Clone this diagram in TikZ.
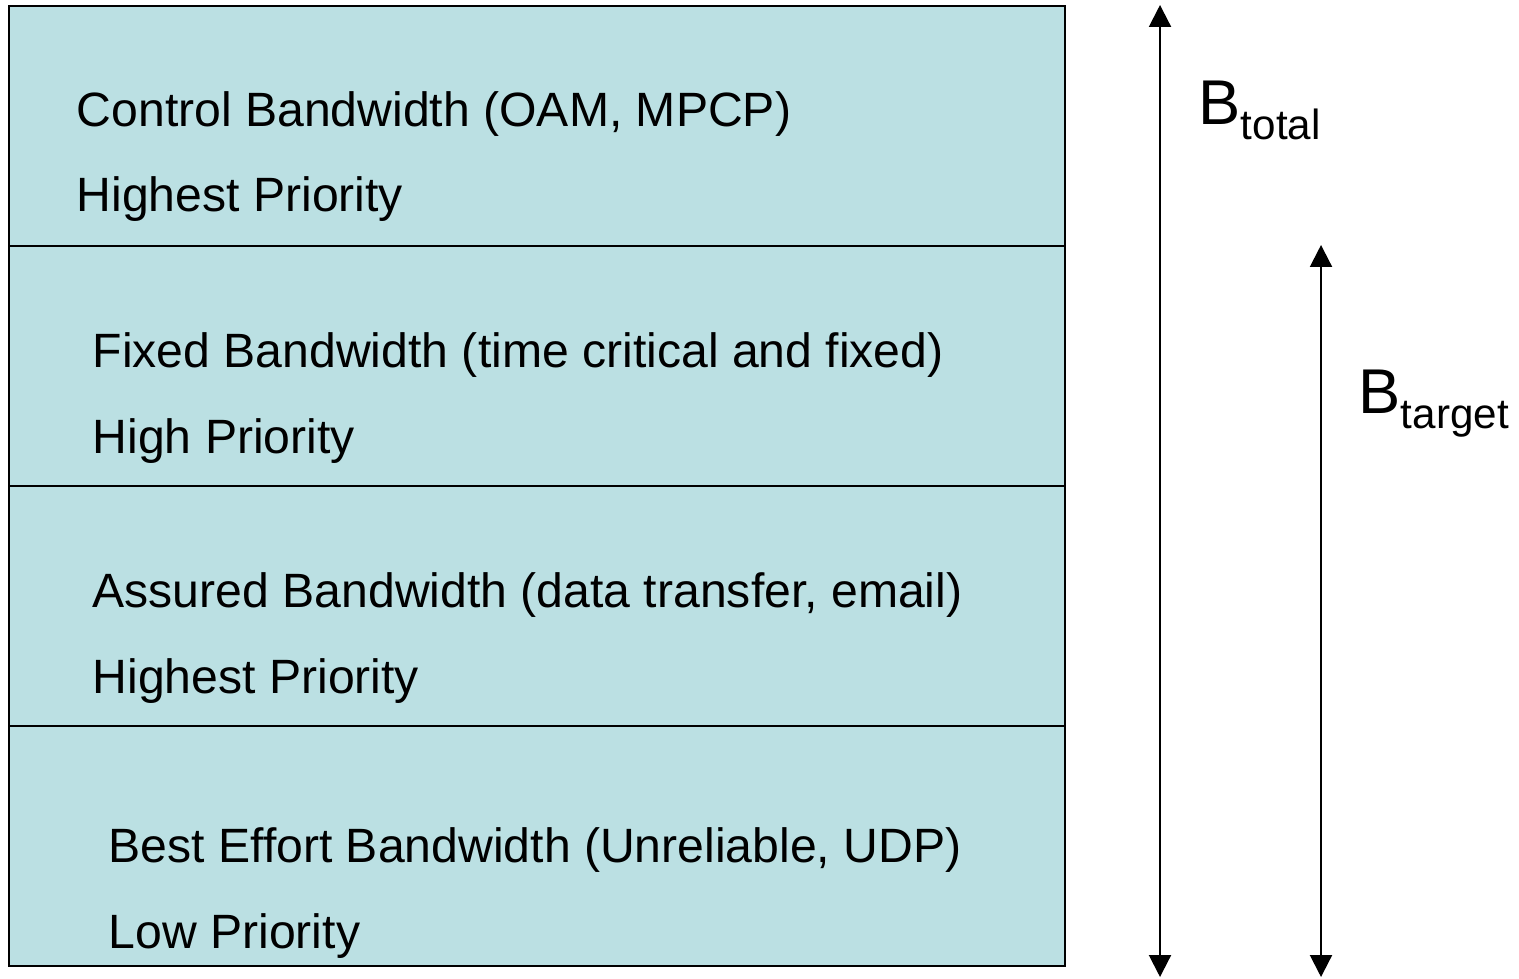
\documentclass[tikz,border=0pt]{standalone}
\usepackage{fontspec}
\setmainfont{Liberation Sans}
\usepackage{xcolor}
\usetikzlibrary{arrows.meta,positioning}
\definecolor{bandfill}{HTML}{BBE0E3}

\begin{document}
\begin{tikzpicture}[
  font=\fontsize{13.7}{16.4}\selectfont,
  band/.style={draw, line width=0.6pt, fill=bandfill, minimum width=10.56cm,
               minimum height=2.4cm, inner sep=0pt, anchor=north west},
  label/.style={anchor=base west, inner sep=0pt},
  sym/.style={anchor=base west, inner sep=0pt, font=\fontsize{18}{21}\selectfont},
  span/.style={{Triangle[length=2.2mm,width=2.2mm]}-{Triangle[length=2.2mm,width=2.2mm]}, line width=0.6pt}
]
\useasboundingbox (0,0) rectangle (15.19,9.78);
\node[band] (ctrl) at (0.08,9.73) {};
\node[band] (fixed) at (0.08,7.33) {};
\node[band] (assured) at (0.08,4.93) {};
\node[band] (best) at (0.08,2.53) {};

\node[label] (ctrlA) at (0.76,8.51) {Control Bandwidth (OAM, MPCP)};
\node[label] (ctrlB) at (0.76,7.66) {Highest Priority};
\node[label] (fixedA) at (0.92,6.11) {Fixed Bandwidth (time critical and fixed)};
\node[label] (fixedB) at (0.92,5.25) {High Priority};
\node[label] (assuredA) at (0.92,3.71) {Assured Bandwidth (data transfer, email)};
\node[label] (assuredB) at (0.92,2.85) {Highest Priority};
\node[label] (bestA) at (1.08,1.16) {Best Effort Bandwidth (Unreliable, UDP)};
\node[label] (bestB) at (1.08,0.30) {Low Priority};

\coordinate (totTop) at (11.60,9.73);
\coordinate (totBot) at (11.60,0.01);
\coordinate (tgtTop) at (13.21,7.33);
\coordinate (tgtBot) at (13.21,0.01);
\draw[span] (totBot) -- (totTop);
\draw[span] (tgtBot) -- (tgtTop);

\node[sym] (btotal) at (11.98,8.53) {B\raisebox{-0.15cm}{\fontsize{12}{14}\selectfont total}};
\node[sym] (btarget) at (13.58,5.65) {B\raisebox{-0.15cm}{\fontsize{12}{14}\selectfont target}};
\end{tikzpicture}
\end{document}
